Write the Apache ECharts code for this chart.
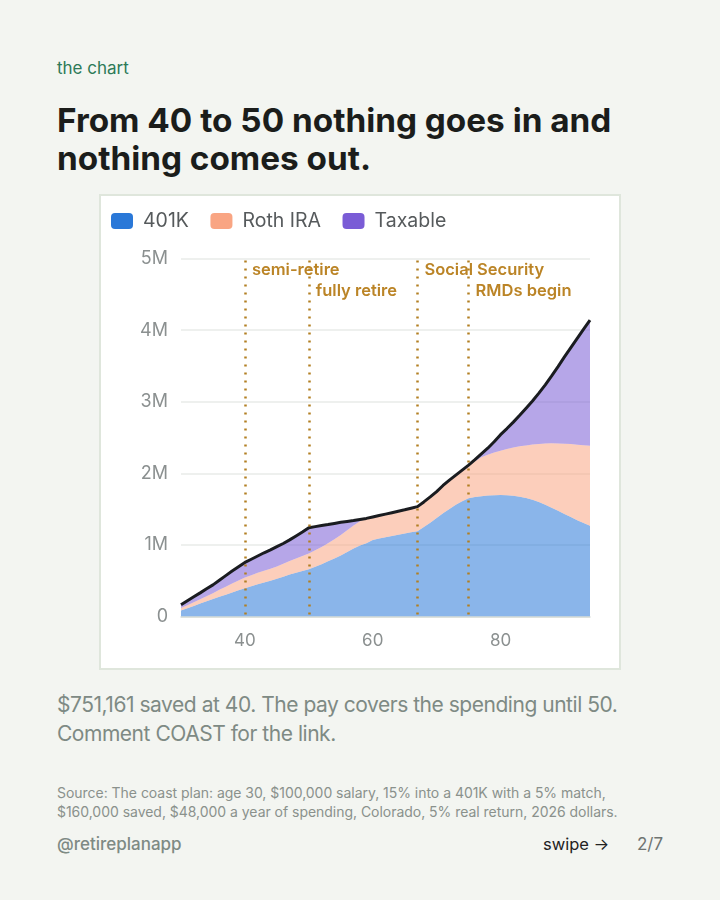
<!DOCTYPE html>
<html>
<head>
<meta charset="utf-8">
<script src="https://cdn.jsdelivr.net/npm/echarts@6/dist/echarts.min.js"></script>
<style>
html, body { margin: 0; padding: 0; }
body { width: 720px; height: 900px; background: #f3f5f1; position: relative; overflow: hidden; font-family: Inter, sans-serif; }
.t { position: absolute; white-space: nowrap; }
#card { position: absolute; left: 99px; top: 194px; width: 518px; height: 472px; background: #fff; border: 2px solid #dfe6dc; }
#main { position: absolute; left: 100px; top: 195px; width: 520px; height: 475px; }
</style>
</head>
<body>
<div class="t" style="left:57px;top:58px;font-size:17px;line-height:20px;color:#2d7a58;">the chart</div>
<div class="t" style="left:57px;top:101px;font-size:33.3px;line-height:38px;font-weight:700;color:#1b1d1b;">From 40 to 50 nothing goes in and<br>nothing comes out.</div>
<div id="card"></div>
<div id="main"></div>
<div class="t" style="left:57px;top:690px;font-size:21px;line-height:29px;letter-spacing:-0.47px;color:#7e8a84;">$751,161 saved at 40. The pay covers the spending until 50.<br>Comment COAST for the link.</div>
<div class="t" style="left:57px;top:783px;font-size:14px;line-height:19px;letter-spacing:-0.03px;color:#8a918c;">Source: The coast plan: age 30, $100,000 salary, 15% into a 401K with a 5% match,<br>$160,000 saved, $48,000 a year of spending, Colorado, 5% real return, 2026 dollars.</div>
<div class="t" style="left:57px;top:834px;font-size:17px;line-height:20px;font-weight:500;color:#7e8a84;">@retireplanapp</div>
<div class="t" style="left:543px;top:834px;font-size:16.5px;line-height:20px;color:#222;">swipe →</div>
<div class="t" style="left:637px;top:834px;font-size:17px;line-height:20px;color:#6f7471;">2/7</div>
<script>
var ages = ['30', '31', '32', '33', '34', '35', '36', '37', '38', '39', '40', '41', '42', '43', '44', '45', '46', '47', '48', '49', '50', '51', '52', '53', '54', '55', '56', '57', '58', '59', '60', '61', '62', '63', '64', '65', '66', '67', '68', '69', '70', '71', '72', '73', '74', '75', '76', '77', '78', '79', '80', '81', '82', '83', '84', '85', '86', '87', '88', '89', '90', '91', '92', '93', '94']
var k401 = [.084, .115, .148, .18, .212, .243, .275, .305, .335, .366, .396, .423, .45, .475, .5, .526, .555, .585, .61, .635, .66, .695, .73, .77, .81, .851, .9, .95, .99, 1.023, 1.07, 1.09, 1.108, 1.125, 1.143, 1.16, 1.175, 1.19, 1.25, 1.31, 1.376, 1.442, 1.5, 1.56, 1.61, 1.651, 1.67, 1.68, 1.69, 1.695, 1.697, 1.693, 1.685, 1.672, 1.655, 1.63, 1.6, 1.562, 1.52, 1.477, 1.432, 1.39, 1.345, 1.307, 1.269]
var roth = [.033, .042, .051, .06, .072, .083, .097, .111, .125, .137, .148, .154, .16, .164, .168, .171, .18, .19, .2, .21, .22, .23, .24, .254, .27, .289, .305, .32, .34, .347, .32, .32, .322, .325, .327, .33, .337, .344, .35, .36, .369, .388, .405, .415, .435, .464, .5, .543, .57, .595, .618, .647, .675, .705, .735, .772, .81, .853, .898, .94, .981, 1.02, 1.055, 1.085, 1.116]
var taxable = [.046, .063, .076, .09, .103, .116, .135, .155, .175, .192, .211, .223, .235, .251, .262, .278, .285, .295, .315, .335, .36, .33, .3, .26, .22, .176, .123, .07, .025, 0, 0, 0, 0, 0, 0, 0, 0, 0, 0, 0, 0, 0, 0, 0, 0, 0, .02, .047, .09, .15, .225, .285, .355, .433, .52, .608, .71, .82, .942, 1.073, 1.212, 1.345, 1.485, 1.623, 1.755]
var total = [.163, .22, .275, .33, .387, .442, .507, .571, .635, .695, .755, .8, .845, .89, .93, .975, 1.02, 1.07, 1.125, 1.18, 1.24, 1.255, 1.27, 1.284, 1.3, 1.316, 1.328, 1.34, 1.355, 1.37, 1.39, 1.41, 1.43, 1.45, 1.47, 1.49, 1.512, 1.534, 1.6, 1.67, 1.745, 1.83, 1.905, 1.975, 2.045, 2.115, 2.19, 2.27, 2.35, 2.44, 2.54, 2.625, 2.715, 2.81, 2.91, 3.01, 3.12, 3.235, 3.36, 3.49, 3.625, 3.755, 3.885, 4.015, 4.14]

var ageTicks = ['40', '60', '80']
var milestones = [
    { age: '40', label: 'semi-retire', row: 0 },
    { age: '50', label: 'fully retire', row: 1 },
    { age: '67', label: 'Social Security', row: 0 },
    { age: '75', label: 'RMDs begin', row: 1 }
]

var myChart = echarts.init(document.getElementById('main'), null, { renderer: 'canvas' })

let area = function(name, values, color) {
    return {
        name: name,
        type: 'line',
        stack: 'money',
        data: values,
        showSymbol: false,
        silent: true,
        itemStyle: { color: color },
        lineStyle: { width: 0 },
        areaStyle: { color: color, opacity: 0.55 }
    }
}

let option = {
    animation: false,
    legend: {
        left: 6,
        top: 11,
        icon: 'roundRect',
        itemWidth: 22,
        itemHeight: 16,
        itemGap: 21.5,
        data: ['401K', 'Roth IRA', 'Taxable'],
        textStyle: { fontFamily: 'Inter', fontSize: 19.5, color: '#565a5c', padding: [0, 0, 0, 5] }
    },
    grid: { left: 81, right: 30, top: 63.5, bottom: 53.5 },
    xAxis: {
        type: 'category',
        data: ages,
        boundaryGap: false,
        splitLine: { show: false },
        axisLine: { lineStyle: { color: '#d8dcd6', width: 1.5 } },
        axisTick: { show: false },
        axisLabel: {
            interval: (i, v) => ageTicks.includes(v),
            margin: 16,
            fontFamily: 'Inter',
            fontSize: 17,
            color: '#8b9090'
        }
    },
    yAxis: {
        type: 'value',
        min: 0,
        max: 5,
        interval: 1,
        splitLine: { lineStyle: { color: '#e9ebe9', width: 1.5 } },
        axisLine: { show: false },
        axisTick: { show: false },
        axisLabel: {
            margin: 13,
            padding: [6, 0, 0, 0],
            fontFamily: 'Inter',
            fontSize: 18,
            color: '#8b9090',
            formatter: v => v ? v + 'M' : '0'
        }
    },
    series: [
        area('401K', k401, '#2a78d8'),
        area('Roth IRA', roth, '#f9a583'),
        area('Taxable', taxable, '#7a5cd6'),
        {
            name: 'Total',
            type: 'line',
            data: total,
            showSymbol: false,
            silent: true,
            z: 4,
            lineStyle: { color: '#1a1c20', width: 3 },
            itemStyle: { color: '#1a1c20' },
            markLine: {
                silent: true,
                symbol: 'none',
                lineStyle: { color: '#b27f22', type: [2, 6], dashOffset: 6, width: 2.5 },
                data: milestones.map(m => ({
                    xAxis: m.age,
                    label: {
                        show: true,
                        formatter: m.label,
                        position: 'end',
                        distance: 0,
                        rotate: 0,
                        align: 'left',
                        verticalAlign: 'top',
                        padding: [m.row ? 24 : 3, 0, 0, 7],
                        fontFamily: 'Inter',
                        fontSize: 16.5,
                        fontWeight: 600,
                        color: '#bb8426'
                    }
                }))
            }
        }
    ]
}

myChart.setOption(option)
</script>
</body>
</html>
